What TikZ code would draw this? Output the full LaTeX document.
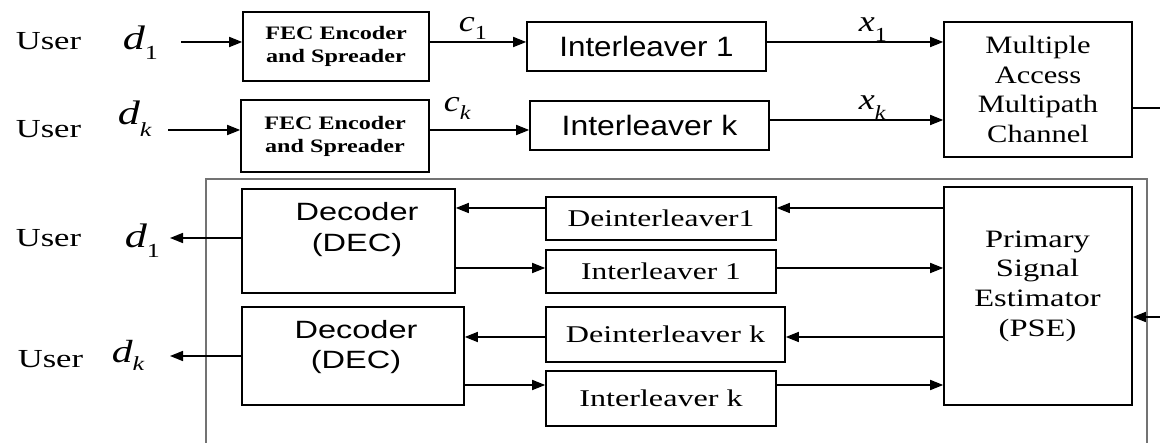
\documentclass[tikz,border=0pt]{standalone}
\usepackage{fontspec}
\setmainfont{Liberation Serif}
\newfontfamily\arialf{Liberation Sans}
\usepackage{graphicx}
\usetikzlibrary{arrows.meta}
\newcommand\sx[2]{\scalebox{#1}[1]{#2}}
\newcommand\fs[1]{\fontsize{#1}{#1}\selectfont}
\newcommand\lab[4]{{\fs{#1}\itshape #2}\raisebox{-#4pt}{\fs{20}#3}}
\begin{document}
\begin{tikzpicture}[x=1pt,y=-1pt,line width=1.6pt,
  arr/.style={-{Triangle[length=13pt,width=10pt]}},
  bx/.style 2 args={draw,inner sep=0pt,minimum width=#1pt,minimum height=#2pt},
  txt/.style={anchor=base west,inner sep=0pt},
  framec/.style={draw=black!55,line width=1.5pt}]
\fill[white] (0,0) rectangle (1160,443);
\useasboundingbox (0,0) rectangle (1160,443);

% frame of the receiver
\draw[framec] (206,443) -- (206,179) -- (1147,179) -- (1147,443);

% transmitter
\node[bx={186}{69},align=center,font=\bfseries\fontsize{19}{23}\selectfont] (fec1) at (336,46.5)
  {\sx{1.27}{FEC Encoder}\\\sx{1.27}{and Spreader}};
\node[bx={188}{72},align=center,font=\bfseries\fontsize{19}{23}\selectfont] (fec2) at (335,136)
  {\sx{1.27}{FEC Encoder}\\\sx{1.27}{and Spreader}};
\node[bx={239}{49},font=\arialf\fs{28}] (int1) at (646.5,46.5) {\sx{1.12}{Interleaver 1}};
\node[bx={239}{49},font=\arialf\fs{28}] (intk) at (649.5,125.5) {\sx{1.14}{Interleaver k}};
\node[bx={188}{135},align=center,font=\fontsize{25}{29.7}\selectfont] (chan) at (1038,89.5)
  {\sx{1.22}{Multiple}\\\sx{1.22}{Access}\\\sx{1.22}{Multipath}\\\sx{1.22}{Channel}};

% receiver
\node[bx={213}{104}] (dec1) at (348.5,241) {};
\node[bx={222}{98}] (dec2) at (353,356) {};
\node[align=center,inner sep=0pt,font=\arialf\fontsize{25}{31}\selectfont] (dec1t) at (357,230)
  {\sx{1.3}{Decoder}\\\sx{1.3}{(DEC)}};
\node[align=center,inner sep=0pt,font=\arialf\fontsize{25}{30}\selectfont] (dec2t) at (356,347.5)
  {\sx{1.3}{Decoder}\\\sx{1.3}{(DEC)}};
\node[bx={230}{43},font=\fs{24}] (deint1) at (661,218.5) {\sx{1.31}{Deinterleaver1}};
\node[bx={230}{43},font=\fs{24}] (int1b) at (661,271.5) {\sx{1.31}{Interleaver 1}};
\node[bx={239}{55},font=\fs{24}] (deintk) at (665.5,334.5) {\sx{1.34}{Deinterleaver k}};
\node[bx={230}{55},font=\fs{24}] (intkb) at (661,398.5) {\sx{1.34}{Interleaver k}};
\node[bx={188}{218}] (pse) at (1038,296) {};
\node[align=center,inner sep=0pt,font=\fontsize{25}{29.7}\selectfont] (pset) at (1037.5,286)
  {\sx{1.3}{Primary}\\\sx{1.3}{Signal}\\\sx{1.3}{Estimator}\\\sx{1.3}{(PSE)}};

% labels
\node[txt] (u1) at (15,50) {\fs{26}\sx{1.33}{User}};
\node[txt] (u2) at (15,138) {\fs{26}\sx{1.33}{User}};
\node[txt] (u3) at (15,247) {\fs{26}\sx{1.33}{User}};
\node[txt] (u4) at (17,368) {\fs{26}\sx{1.33}{User}};
\node[txt] (d1a) at (122,50) {\sx{1.3}{\lab{34}{d}{1}{10}}};
\node[txt] (dka) at (117,125) {\sx{1.3}{\lab{34}{d}{\itshape k}{12}}};
\node[txt] (d1b) at (124,248) {\sx{1.3}{\lab{34}{d}{1}{10}}};
\node[txt] (dkb) at (111,363) {\sx{1.3}{\lab{32}{d}{\itshape k}{8}}};
\node[txt] (c1) at (458,32) {\sx{1.2}{\lab{30}{c}{1}{8}}};
\node[txt] (ck) at (443,112) {\sx{1.2}{\lab{30}{c}{\itshape k}{8}}};
\node[txt] (x1) at (858,32) {\sx{1.2}{\lab{30}{x}{1}{10}}};
\node[txt] (xk) at (858,110) {\sx{1.2}{\lab{30}{x}{\itshape k}{10}}};

% helper coordinates
\coordinate (i1) at (181,42);
\coordinate (i2) at (168,130);
\coordinate (l2) at (0,120);
\coordinate (e1) at (1160,108);
\coordinate (e2) at (1160,317);
\coordinate (o1) at (170,238);
\coordinate (o2) at (170,356);
\coordinate (ya) at (0,208);
\coordinate (yb) at (0,268);
\coordinate (yc) at (0,337);
\coordinate (yd) at (0,385);

% transmitter connectors
\draw[arr] (i1) -- (i1 -| fec1.west);
\draw[arr] (i2) -- (i2 -| fec2.west);
\draw[arr] (fec1.east |- i1) -- (int1.west |- i1);
\draw[arr] (fec2.east |- i2) -- (intk.west |- i2);
\draw[arr] (int1.east |- i1) -- (chan.west |- i1);
\draw[arr] (intk.east |- l2) -- (chan.west |- l2);
\draw (chan.east |- e1) -- (e1);

% receiver connectors
\draw[arr] (e2) -- (pse.east |- e2);
\draw[arr] (pse.west |- ya) -- (deint1.east |- ya);
\draw[arr] (deint1.west |- ya) -- (dec1.east |- ya);
\draw[arr] (dec1.east |- yb) -- (int1b.west |- yb);
\draw[arr] (int1b.east |- yb) -- (pse.west |- yb);
\draw[arr] (pse.west |- yc) -- (deintk.east |- yc);
\draw[arr] (deintk.west |- yc) -- (dec2.east |- yc);
\draw[arr] (dec2.east |- yd) -- (intkb.west |- yd);
\draw[arr] (intkb.east |- yd) -- (pse.west |- yd);
\draw[arr] (dec1.west |- o1) -- (o1);
\draw[arr] (dec2.west |- o2) -- (o2);
\end{tikzpicture}
\end{document}
